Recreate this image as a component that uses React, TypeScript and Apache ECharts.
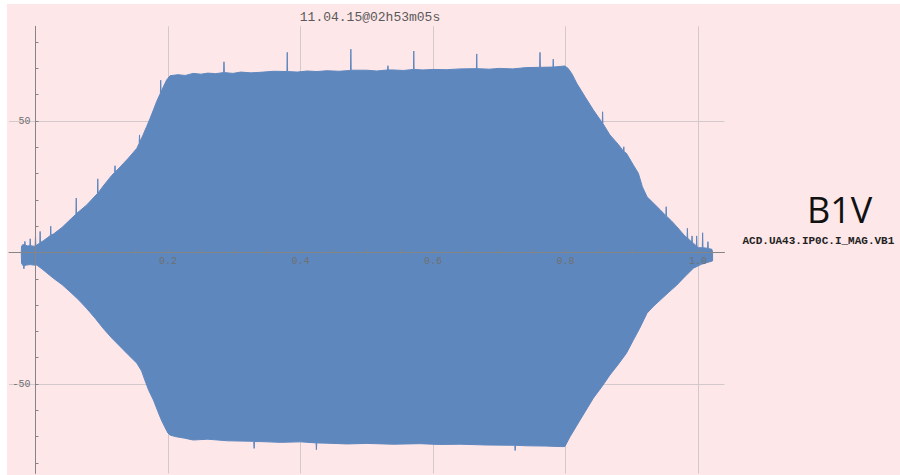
import React, { useEffect, useRef } from 'react';
import * as echarts from 'echarts';

// Texts
const titleText = '11.04.15@02h53m05s';
const signalName = 'B1V';
const channelName = 'ACD.UA43.IP0C.I_MAG.VB1';

// Grid lines (time axis in s, amplitude)
const xGridLines = [0.2, 0.4, 0.6, 0.8, 1.0];
const yGridLines = [50, -50];

// Positive envelope of the oscillation: [time, amplitude]
const upperEnvelope: [number, number][] = [
  [-0.0215, 0], [-0.021, 2.5], [-0.019, 3.0], [-0.0165, 2.8], [-0.016, 4.2], [-0.0155, 2.8],
  [-0.012, 2.5], [-0.0085, 2.6], [-0.008, 5.2], [-0.0075, 2.6], [-0.003, 2.4],
  [-0.0005, 2.4], [0, 6.4], [0.0005, 2.6], [0.004, 3.2], [0.0065, 3.5], [0.007, 8], [0.0075, 3.8],
  [0.012, 4.5], [0.018, 5.6], [0.0225, 6.5], [0.023, 10], [0.0235, 6.6], [0.027, 7],
  [0.04, 9.5], [0.052, 12.4], [0.06, 14.3], [0.061, 14.5], [0.0615, 20.7], [0.062, 14.8],
  [0.077, 18], [0.09, 21.5], [0.0935, 22.4], [0.094, 28], [0.0945, 22.6], [0.102, 25.2],
  [0.115, 29.3], [0.1195, 30.4], [0.12, 33], [0.1205, 30.6], [0.128, 32.6], [0.14, 35.8],
  [0.153, 39.6], [0.1565, 41.5], [0.157, 44.7], [0.1575, 42], [0.162, 44.5], [0.168, 48],
  [0.173, 51], [0.178, 54.2], [0.183, 57.5], [0.1885, 60.5], [0.189, 65.5], [0.1895, 61],
  [0.193, 63], [0.198, 65.6], [0.203, 67.2], [0.215, 67.6], [0.226, 67.3], [0.238, 68.1],
  [0.25, 67.8], [0.26, 68.2], [0.272, 68.0], [0.284, 68.4], [0.2845, 72.5], [0.285, 68.4],
  [0.298, 68.1], [0.31, 68.6], [0.325, 68.3], [0.339, 68.5], [0.36, 68.9], [0.3795, 68.8],
  [0.38, 76.1], [0.3805, 68.8], [0.395, 68.6], [0.41, 69], [0.425, 68.8], [0.44, 69.1],
  [0.458, 68.9], [0.4755, 69.2], [0.476, 77.3], [0.4765, 69.3], [0.5, 69.3], [0.515, 69.0],
  [0.5315, 69.4], [0.532, 71], [0.5325, 69.4], [0.54, 69.4], [0.555, 69.2], [0.5705, 69.6],
  [0.571, 76.6], [0.5715, 69.6], [0.585, 69.4], [0.6, 69.6], [0.62, 69.5], [0.641, 69.8],
  [0.6655, 69.9], [0.666, 75.5], [0.6665, 69.9], [0.685, 69.7], [0.7, 70], [0.72, 69.8],
  [0.741, 70.3], [0.761, 70.4], [0.7615, 76.1], [0.762, 70.4], [0.781, 70.5], [0.7815, 73.5],
  [0.782, 70.5], [0.799, 70.9], [0.804, 70], [0.81, 67.8], [0.817, 64.3], [0.83, 59],
  [0.842, 54.2], [0.8555, 49.3], [0.856, 53.5], [0.8565, 49], [0.867, 44.7], [0.88, 41],
  [0.8875, 38.5], [0.888, 40.2], [0.8885, 38.3], [0.892, 37.7], [0.903, 33], [0.91, 30.1],
  [0.916, 25], [0.923, 21.2], [0.933, 18.7], [0.943, 16.2], [0.9515, 14], [0.952, 17.4],
  [0.9525, 13.8], [0.96, 12], [0.968, 9.8], [0.98, 6.3], [0.9835, 5.5], [0.984, 9.2],
  [0.9845, 5.4], [0.9905, 4.0], [0.991, 6.3], [0.9915, 3.9], [0.993, 3.5], [0.9975, 2.5],
  [0.998, 6.3], [0.9985, 2.3], [1.001, 1.8], [1.0065, 1.8], [1.007, 7.5], [1.0075, 1.8],
  [1.0145, 1.6], [1.015, 4.1], [1.0155, 1.5], [1.021, 1.2], [1.022, 0],
];

// Negative envelope of the oscillation: [time, amplitude]
const lowerEnvelope: [number, number][] = [
  [-0.0215, 0], [-0.021, -4.2], [-0.018, -5.2], [-0.0175, -6.2], [-0.017, -5.0], [-0.014, -4.8],
  [-0.008, -4.6], [-0.003, -4.8], [0.002, -4.8], [0.01, -6.3], [0.027, -9.8], [0.04, -12.2],
  [0.052, -14.9], [0.065, -18], [0.077, -21.2], [0.09, -25], [0.102, -28.8], [0.115, -32.5],
  [0.128, -35.8], [0.14, -38.9], [0.153, -42.1], [0.16, -45], [0.165, -48.5], [0.171, -52.5],
  [0.178, -56.1], [0.184, -60], [0.19, -63.7], [0.195, -66.3], [0.2, -68.7], [0.203, -69.4],
  [0.211, -70], [0.225, -70.6], [0.238, -71.3], [0.26, -71.0], [0.29, -71.6], [0.3295, -71.8],
  [0.33, -74.5], [0.3305, -71.9], [0.339, -71.9], [0.37, -72.2], [0.4, -72.0], [0.4235, -72.4],
  [0.424, -75], [0.4245, -72.4], [0.44, -72.5], [0.47, -72.8], [0.5, -72.6], [0.54, -72.9],
  [0.58, -72.7], [0.61, -73.0], [0.641, -72.9], [0.68, -73.2], [0.7235, -73.3], [0.724, -75.3],
  [0.7245, -73.3], [0.741, -73.5], [0.77, -73.6], [0.792, -73.8], [0.799, -73.8], [0.807, -70],
  [0.822, -63.7], [0.842, -55.4], [0.855, -51], [0.867, -46.6], [0.88, -42.4], [0.892, -38.3],
  [0.902, -33.5], [0.912, -28.8], [0.923, -23.1], [0.933, -20.4], [0.943, -18.1], [0.955, -15.3],
  [0.968, -12.4], [0.98, -9.2], [0.993, -6], [1.005, -4.5], [1.018, -3.5], [1.022, -3.2],
  [1.022, 0],
];

const WAVE = '#5e87be';
const AXIS = '#858585';
const GRID_LINE = '#d3c9ca';
const LABEL = '#707070';
const MONO = 'Liberation Mono';

export default function App() {
  const ref = useRef<HTMLDivElement>(null);

  useEffect(() => {
    if (!ref.current) return;
    const chart = echarts.init(ref.current, undefined, { renderer: 'svg' });

    const plainAxis = {
      axisTick: { show: false },
      axisLabel: { show: false },
      splitLine: { show: false },
      z: 5,
    };
    const hiddenAxis = {
      show: false,
      axisLine: { show: false },
      axisTick: { show: false },
      axisLabel: { show: false },
      splitLine: { show: false },
    };

    // grid 0: waveform and axis lines; grid 1: amplitude ticks (-80..80);
    // grid 2: time ticks, its bottom edge sits on the zero line
    chart.setOption({
      animation: false,
      backgroundColor: 'transparent',
      grid: [
        { left: 2, top: 22.3, width: 715.5, height: 447.1 },
        { left: 28.5, top: 38.1, width: 662.5, height: 420.8 },
        { left: 28.5, top: 38.1, width: 662.5, height: 210.4 },
      ],
      xAxis: [
        {
          ...plainAxis,
          type: 'value',
          gridIndex: 0,
          min: -0.04,
          max: 1.04,
          axisLine: { show: true, onZero: true, lineStyle: { color: AXIS, width: 1 } },
        },
        { ...hiddenAxis, type: 'value', gridIndex: 1, min: 0, max: 1 },
        {
          type: 'value',
          gridIndex: 2,
          position: 'bottom',
          min: 0,
          max: 1,
          interval: 0.2,
          z: 5,
          axisLine: { show: false, onZero: false },
          axisTick: { show: true, inside: true, length: 3, lineStyle: { color: AXIS } },
          minorTick: { show: true, splitNumber: 4, length: 3, lineStyle: { color: AXIS } },
          axisLabel: {
            formatter: (v: number) => (v === 0 ? '' : v.toFixed(1)),
            color: LABEL,
            fontFamily: MONO,
            fontSize: 10,
            margin: 4,
          },
          splitLine: { show: false },
        },
      ],
      yAxis: [
        {
          ...plainAxis,
          type: 'value',
          gridIndex: 0,
          min: -84,
          max: 86,
          axisLine: { show: true, onZero: true, lineStyle: { color: AXIS, width: 1 } },
        },
        {
          type: 'value',
          gridIndex: 1,
          position: 'left',
          min: -80,
          max: 80,
          interval: 10,
          z: 5,
          axisLine: { show: false, onZero: false },
          axisTick: { show: true, inside: true, length: 3, lineStyle: { color: AXIS } },
          axisLabel: {
            formatter: (v: number) => (v === 50 ? '50' : v === -50 ? '-50' : ''),
            color: LABEL,
            fontFamily: MONO,
            fontSize: 10,
            margin: 5,
          },
          splitLine: { show: false },
        },
        { ...hiddenAxis, type: 'value', gridIndex: 2, min: 0, max: 1 },
      ],
      graphic: [
        {
          type: 'text',
          x: 363,
          y: 13,
          style: {
            text: titleText,
            fontFamily: MONO,
            fontSize: 13,
            fill: '#5a5a5a',
            textAlign: 'center',
            textVerticalAlign: 'middle',
          },
        },
        {
          type: 'text',
          x: 800,
          y: 205,
          style: {
            text: signalName,
            fontFamily: 'Open Sans',
            fontSize: 36,
            fill: '#111111',
            textAlign: 'left',
            textVerticalAlign: 'middle',
          },
        },
        {
          type: 'text',
          x: 735.5,
          y: 236.5,
          style: {
            text: channelName,
            fontFamily: MONO,
            fontSize: 11,
            fontWeight: 'bold',
            fill: '#222222',
            textAlign: 'left',
            textVerticalAlign: 'middle',
          },
        },
      ],
      series: [
        {
          // carrier for the grid lines, drawn beneath the waveform
          type: 'line',
          xAxisIndex: 0,
          yAxisIndex: 0,
          z: 1,
          data: [[0, 0]],
          showSymbol: false,
          lineStyle: { width: 0, opacity: 0 },
          markLine: {
            silent: true,
            z: 0,
            symbol: ['none', 'none'],
            label: { show: false },
            lineStyle: { color: GRID_LINE, type: 'solid', width: 1 },
            data: [
              ...xGridLines.map((v) => ({ xAxis: v })),
              ...yGridLines.map((v) => ({ yAxis: v })),
            ],
          },
        },
        {
          type: 'line',
          xAxisIndex: 0,
          yAxisIndex: 0,
          z: 2,
          data: upperEnvelope,
          showSymbol: false,
          lineStyle: { color: WAVE, width: 1 },
          areaStyle: { color: WAVE, opacity: 1 },
        },
        {
          type: 'line',
          xAxisIndex: 0,
          yAxisIndex: 0,
          z: 2,
          data: lowerEnvelope,
          showSymbol: false,
          lineStyle: { color: WAVE, width: 1 },
          areaStyle: { color: WAVE, opacity: 1 },
        },
      ],
    });

    return () => chart.dispose();
  }, []);

  return (
    <div style={{ position: 'absolute', left: 0, top: 0, width: 900, height: 475, background: '#ffffff' }}>
      <div
        ref={ref}
        style={{ position: 'absolute', left: 7, top: 4, width: 893, height: 471, background: '#fee7e9' }}
      />
    </div>
  );
}
